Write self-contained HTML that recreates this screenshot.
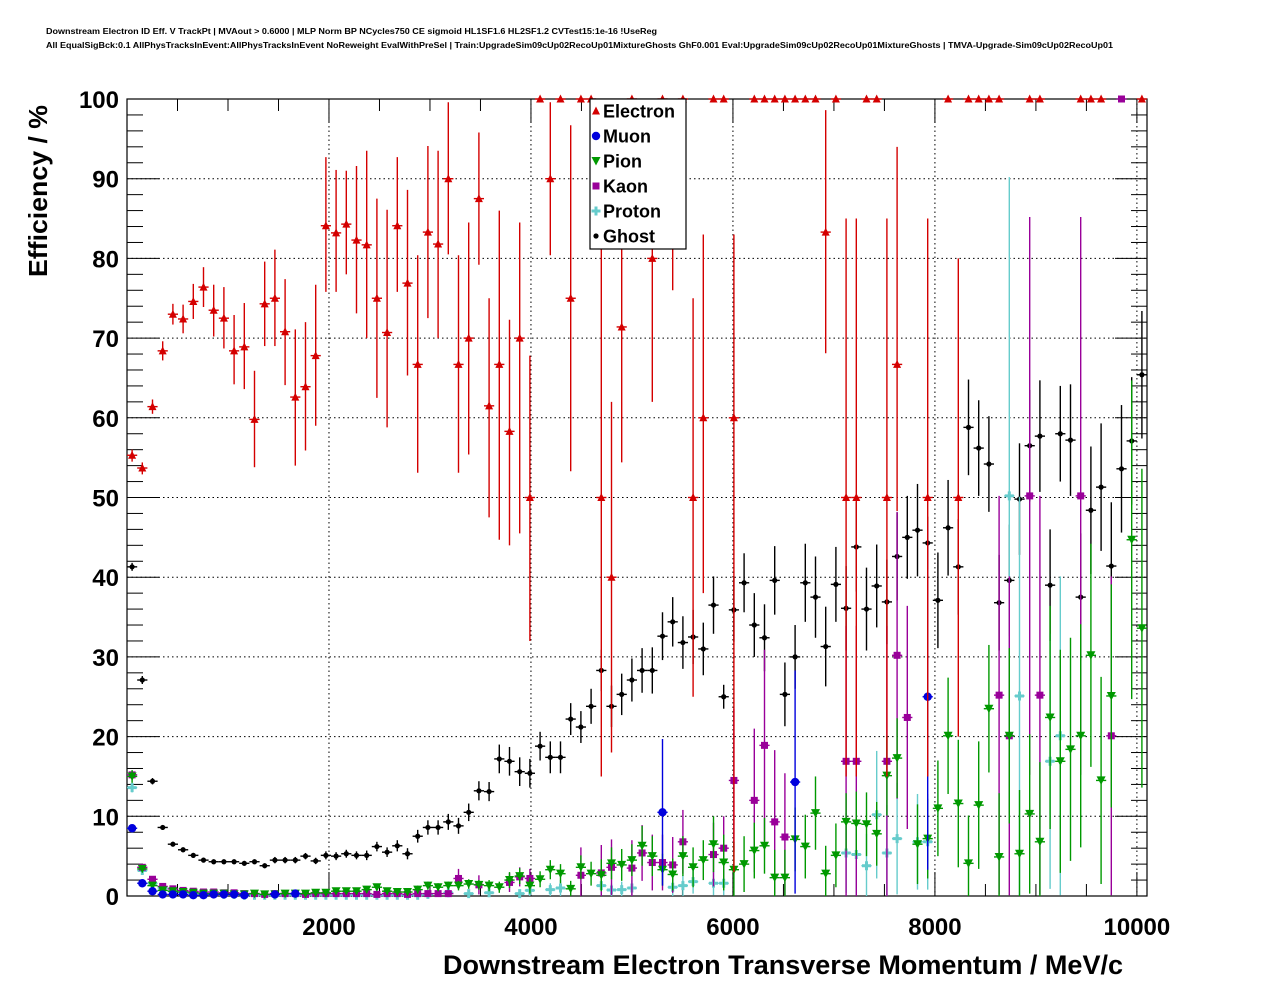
<!DOCTYPE html>
<html><head><meta charset="utf-8"><title>Downstream Electron ID Efficiency</title>
<style>
html,body{margin:0;padding:0;background:#fff;}
svg{display:block;font-family:"Liberation Sans",Arial,sans-serif;}
</style></head>
<body>
<svg id="chart" width="1276" height="996" viewBox="0 0 1276 996" xmlns="http://www.w3.org/2000/svg">
<rect x="0" y="0" width="1276" height="996" fill="#fff"/>
<text x="46" y="34" font-size="8" font-weight="bold" textLength="611" lengthAdjust="spacingAndGlyphs">Downstream Electron ID Eff. V TrackPt | MVAout &gt; 0.6000 | MLP Norm BP NCycles750 CE sigmoid HL1SF1.6 HL2SF1.2 CVTest15:1e-16 !UseReg</text>
<text x="46" y="48" font-size="8" font-weight="bold" textLength="1067" lengthAdjust="spacingAndGlyphs">All EqualSigBck:0.1 AllPhysTracksInEvent:AllPhysTracksInEvent NoReweight EvalWithPreSel | Train:UpgradeSim09cUp02RecoUp01MixtureGhosts GhF0.001 Eval:UpgradeSim09cUp02RecoUp01MixtureGhosts | TMVA-Upgrade-Sim09cUp02RecoUp01</text>
<g id="grid"></g>
<g id="axes"></g>
<g id="series"></g>
<g id="legend"></g>
<text transform="translate(47,191) rotate(-90)" text-anchor="middle" font-size="26" font-weight="bold" textLength="172" lengthAdjust="spacingAndGlyphs">Efficiency / %</text>
<text x="443" y="974" font-size="27" font-weight="bold" textLength="680" lengthAdjust="spacingAndGlyphs">Downstream Electron Transverse Momentum / MeV/c</text>
</svg>
<script>
// ---- data ----
const binWidth = 101;
const xTicks = [2000, 4000, 6000, 8000, 10000];
const xTickLabels = ["2000", "4000", "6000", "8000", "10000"];
const yTicks = [0, 10, 20, 30, 40, 50, 60, 70, 80, 90, 100];
const yTickLabels = ["0", "10", "20", "30", "40", "50", "60", "70", "80", "90", "100"];
const N = null;
const electronVals = [55.3,53.7,61.4,68.4,73.0,72.4,74.6,76.4,73.5,72.5,68.4,68.9,59.8,74.3,75.0,70.8,62.6,63.9,67.8,84.1,
83.2,84.3,82.3,81.7,75.0,70.7,84.1,76.9,66.7,83.3,81.8,90,66.7,70,87.5,61.5,66.7,58.3,70,50,
100,90,100,75,100,100,50,40,71.4,100,N,80,100,90,100,50,60,100,100,60,
N,100,100,100,100,100,100,100,83.3,100,50,50,100,100,50,66.7,N,N,50,N,
100,50,100,100,100,100,N,N,100,100,N,N,N,100,100,100,N,N,N,100];
const electronErrUp = [0.7,0.7,0.9,1.2,1.3,1.8,2.2,2.5,3.2,3.9,4.5,5.5,6.1,5.3,6.1,6.6,8.5,8.1,8.9,8.6,
7.9,6.7,9.3,11.8,12.5,15.4,8.6,11.7,13.7,10.8,11.7,9.6,13.7,14.5,8.3,13.5,19.3,14,14.5,17.8,
0,9.6,0,21.7,0,0,35,22,12.3,0,0,14,0,10,0,25,23,0,0,23,
0,0,0,0,0,0,0,0,15.3,0,35,35,0,0,35,27.3,0,0,35,0,
0,30,0,0,0,0,0,0,0,0,0,0,0,0,0,0,0,0,0,0];
const electronErrDn = [0.8,0.8,0.9,1.2,1.3,1.8,2.2,2.5,3.3,3.8,4.2,5.3,6,5.3,6,6.7,8.6,8,8.8,8.3,
7.4,6.3,9.2,11.7,12.5,11.9,8.3,11.6,13.6,10.8,11.8,9.5,13.6,14.6,8.3,14,22,14.3,24.5,18,
0,9.6,0,21.7,0,0,35,22,17,0,0,18,0,14,0,25,22,0,0,57,
0,0,0,0,0,0,0,0,15.2,0,35,35,0,0,35,18.4,0,0,35,0,
0,30,0,0,0,0,0,0,0,0,0,0,0,0,0,0,0,0,0,0];
const muonVals = [8.5,1.6,0.6,0.2,0.2,0.2,0.1,0.1,0.2,0.2,0.2,0.1,N,N,0.2,N,0.3,N,N,N,
N,N,N,N,N,N,N,N,N,N,N,N,N,N,N,N,N,N,N,N,
N,N,N,N,N,N,N,N,N,N,N,N,10.5,N,N,N,N,N,N,N,
N,N,N,N,N,14.3,N,N,N,N,N,N,N,N,N,N,N,N,25,N,
N,N,N,N,N,N,N,N,N,N,N,N,N,N,N,N,N,N,N,N];
const muonErr = [0.4,0.2,0.1,0.1,0.1,0.1,0.1,0.1,0.1,0.1,0.1,0.1,0,0,0.1,0,0.2,0,0,0,
0,0,0,0,0,0,0,0,0,0,0,0,0,0,0,0,0,0,0,0,
0,0,0,0,0,0,0,0,0,0,0,0,9.2,0,0,0,0,0,0,0,
0,0,0,0,0,14,0,0,0,0,0,0,0,0,0,0,0,0,21.7,0,
0,0,0,0,0,0,0,0,0,0,0,0,0,0,0,0,0,0,0,0];
const pionVals = [15.0,3.4,1.3,0.7,0.6,0.5,0.4,0.3,0.3,0.3,0.2,0.2,0.3,0.2,0.2,0.3,0.3,0.3,0.4,0.4,
0.6,0.6,0.6,0.8,1.1,0.6,0.5,0.5,0.8,1.3,1.1,1.3,1.3,1.5,1.4,1.3,1.1,2.0,2.5,1.3,
2.1,3.3,2.8,0.9,3.6,2.8,2.6,4.1,3.9,4.5,6.3,5.0,3.3,2.7,5.0,3.6,4.5,6.5,4.2,3.3,
4.0,5.7,6.3,2.3,2.3,7.1,6.2,10.4,2.8,5.1,9.3,9.1,9.0,7.8,15.1,17.3,N,6.5,7.2,11.0,
20.1,11.6,4.1,11.4,23.5,4.9,20.1,5.3,10.3,6.8,22.4,16.9,18.4,20.1,30.2,14.5,25.1,N,44.7,33.6];
const pionErr = [0.8,0.4,0.3,0.2,0.2,0.2,0.2,0.2,0.2,0.2,0.2,0.2,0.2,0.2,0.2,0.2,0.2,0.2,0.2,0.2,
0.3,0.4,0.4,0.4,0.4,0.4,0.4,0.4,0.5,0.5,0.5,0.5,0.6,0.6,0.6,0.7,0.7,1.0,1.0,1.0,
1.0,1.2,1.2,1.0,1.5,1.5,2,2,2,2,2.5,2.5,2,2,2.5,2.5,2.5,3.5,3.5,3.5,
3.5,3.5,3.5,3.5,3.5,4,4,4.6,3.5,4,3.6,4,4,4,5,5,0,5,5,6,
7.3,8,6,8,8,8,11,8,10,10,14,14,14,14,14,13,14,0,20,20];
const kaonVals = [15.2,3.6,2.1,1.2,0.9,0.7,0.6,0.5,0.5,0.4,0.4,0.3,0.3,0.2,0.3,0.3,0.3,0.2,0.3,0.3,
0.3,0.3,0.3,0.3,0.2,0.3,0.3,0.2,0.3,0.3,0.3,0.3,2.2,N,1.4,N,N,1.7,2.4,2.2,
N,N,N,N,2.6,N,2.9,3.6,N,3.5,5.4,4.2,4.2,3.9,6.8,N,N,5.2,6.0,14.5,
N,12.0,18.9,9.3,7.4,N,N,N,N,N,16.9,16.9,N,N,16.9,30.2,22.4,N,N,N,
N,N,N,N,N,25.2,20.1,N,50.2,25.2,N,N,N,50.2,N,N,20.1,100,N,N];
const kaonErr = [0.5,0.3,0.3,0.2,0.2,0.2,0.2,0.2,0.2,0.2,0.2,0.2,0.2,0.2,0.2,0.2,0.2,0.2,0.2,0.2,
0.2,0.2,0.2,0.2,0.2,0.2,0.2,0.2,0.2,0.2,0.2,0.2,1.2,0,1.2,0,0,1.2,1.2,1.2,
0,0,0,0,3.5,0,3.5,3.5,0,3.5,3.5,3.5,3.5,3.5,4,0,0,4,4,9,
0,9,12,9,8,0,0,0,0,0,17,17,0,0,17,18,14,0,0,0,
0,0,0,0,0,25,20,0,35,25,0,0,0,35,0,0,20,0,0,0];
const protonVals = [13.6,3.2,1.6,1.0,0.6,0.5,0.4,0.3,0.3,0.2,0.2,0.1,0.1,0.1,0.1,0.1,0.1,0.1,0.1,0.1,
0.1,0.1,0.1,0.1,0.1,0.1,0.1,0.1,0.1,0.2,N,0.4,N,0.3,N,0.4,N,N,0.3,0.7,
N,0.8,1.0,N,N,N,1.3,0.75,0.8,1.0,N,N,N,1.1,1.3,1.8,N,1.6,1.6,N,
N,N,N,N,N,N,N,N,N,N,5.4,5.2,3.8,10.2,5.4,7.2,N,6.8,6.8,N,
N,N,N,N,N,N,50.2,25.1,N,N,16.9,20.1,N,N,N,N,N,N,N,N];
const protonErr = [0.6,0.3,0.2,0.2,0.2,0.2,0.2,0.1,0.1,0.1,0.1,0.1,0.1,0.1,0.1,0.1,0.1,0.1,0.1,0.1,
0.1,0.1,0.1,0.1,0.1,0.1,0.1,0.1,0.1,0.2,0,0.4,0,0.3,0,0.4,0,0,0.5,0.7,
0,0.8,1.0,0,0,0,1.3,0.8,1.0,1.0,0,0,0,1.2,1.3,1.5,0,1.5,1.5,0,
0,0,0,0,0,0,0,0,0,0,5,5,4,8,6,7,0,6,6,0,
0,0,0,0,0,0,40,25,0,0,16,20,0,0,0,0,0,0,0,0];
const ghostVals = [41.3,27.1,14.4,8.6,6.5,5.8,5.1,4.5,4.3,4.3,4.3,4.1,4.3,3.8,4.5,4.5,4.5,5.0,4.4,5.1,
5.0,5.3,5.1,5.1,6.2,5.5,6.3,5.3,7.5,8.6,8.6,9.3,8.8,10.5,13.2,13.1,17.2,16.9,15.6,15.4,
18.8,17.4,17.4,22.2,21.2,23.8,28.3,23.8,25.3,27.1,28.3,28.3,32.6,34.4,31.8,32.5,31.0,36.5,25.0,35.9,
39.3,34.0,32.4,39.6,25.3,30.0,39.3,37.5,31.3,39.1,36.1,43.8,36.0,38.9,36.9,42.6,45.0,45.9,44.3,37.1,
46.2,41.3,58.8,56.2,54.2,36.8,39.6,49.8,56.5,57.7,39.0,58.0,57.2,37.5,48.4,51.3,41.4,53.6,57.1,65.4];
const ghostErr = [0.5,0.5,0.4,0.3,0.3,0.3,0.3,0.3,0.3,0.3,0.3,0.3,0.3,0.3,0.4,0.4,0.4,0.4,0.4,0.5,
0.5,0.5,0.5,0.6,0.6,0.6,0.7,0.7,0.8,0.9,0.9,1.0,1.0,1.1,1.2,1.2,1.8,1.8,1.8,1.8,
1.8,2,2,2,2,2.2,2.6,2.6,2.6,2.7,2.8,2.9,3,3.1,3.3,3.4,3.3,3.6,1.5,4,
3.7,4,4.2,4.3,4,4,4.9,5.1,5,4.7,5.3,5.6,5.2,5.2,5.3,5.5,5.2,5.8,3.3,6,
6,6,6,6,6,6,7,7,7,7,7,6,7,8,8,8,8,8,8,8];

// ---- axes ----
const X0 = 127, X1 = 1147, Y0 = 896, Y1 = 99;
const XMAX = 10100;
function xs(v){ return X0 + v * (X1 - X0) / XMAX; }
function ys(v){ return Y0 - v * (Y0 - Y1) / 100; }
function binCenter(i){ return binWidth * (i + 0.5); }

const NS = "http://www.w3.org/2000/svg";
function mk(tag, attrs, parent){
  const e = document.createElementNS(NS, tag);
  for (const k in attrs) e.setAttribute(k, attrs[k]);
  parent.appendChild(e);
  return e;
}
const grid = document.getElementById('grid');
const axes = document.getElementById('axes');
const series = document.getElementById('series');
const legend = document.getElementById('legend');

xTicks.forEach(function(t){
  const l = mk('line', {x1: xs(t), x2: xs(t), y1: Y1, y2: Y0, stroke: '#000', 'stroke-width': 1, 'stroke-dasharray': '1.5,3'}, grid);
  
  
});
yTicks.forEach(function(t){
  if (t === 0 || t === 100) return;
  const l = mk('line', {x1: X0, x2: X1, y1: ys(t), y2: ys(t), stroke: '#000', 'stroke-width': 1, 'stroke-dasharray': '1.5,3'}, grid);
  
  
});

const frame = mk('rect', {x: X0, y: Y1, width: X1 - X0, height: Y0 - Y1, fill: 'none', stroke: '#000', 'stroke-width': 1.2}, axes);



for (let v = 0; v <= XMAX; v += 500) {
  const major = (v % 2000 === 0);
  const len = major ? 24 : 12;
  const b = mk('line', {x1: xs(v), x2: xs(v), y1: Y0, y2: Y0 - len, stroke: '#000', 'stroke-width': 1}, axes);
  
  
  const t = mk('line', {x1: xs(v), x2: xs(v), y1: Y1, y2: Y1 + len, stroke: '#000', 'stroke-width': 1}, axes);
  
  
}
for (let v = 0; v <= 100; v += 2) {
  const major = (v % 10 === 0);
  const len = major ? 32 : 16;
  const l = mk('line', {x1: X0, x2: X0 + len, y1: ys(v), y2: ys(v), stroke: '#000', 'stroke-width': 1}, axes);
  
  
  const r = mk('line', {x1: X1, x2: X1 - len, y1: ys(v), y2: ys(v), stroke: '#000', 'stroke-width': 1}, axes);
  
  
}
xTicks.forEach(function(t, i){
  const tx = mk('text', {x: xs(t), y: 935, 'text-anchor': 'middle', 'font-size': 24, 'font-weight': 'bold'}, axes);
  tx.textContent = xTickLabels[i];
  
  
});
yTicks.forEach(function(t, i){
  const tx = mk('text', {x: 119, y: ys(t) + 9, 'text-anchor': 'end', 'font-size': 24, 'font-weight': 'bold'}, axes);
  tx.textContent = yTickLabels[i];
  
  
});

function marker(kind, cx, cy, color, parent){
  let m;
  if (kind === 'tri-up') {
    m = mk('polygon', {points: (cx-4)+','+(cy+3.5)+' '+(cx+4)+','+(cy+3.5)+' '+cx+','+(cy-4.5), fill: color}, parent);
  } else if (kind === 'tri-down') {
    m = mk('polygon', {points: (cx-4.5)+','+(cy-4)+' '+(cx+4.5)+','+(cy-4)+' '+cx+','+(cy+4.5), fill: color}, parent);
  } else if (kind === 'circle') {
    m = mk('circle', {cx: cx, cy: cy, r: 4.2, fill: color}, parent);
  } else if (kind === 'square') {
    m = mk('rect', {x: cx-3.5, y: cy-3.5, width: 7, height: 7, fill: color}, parent);
  } else if (kind === 'cross') {
    m = mk('path', {d: 'M'+(cx-4.5)+','+cy+'H'+(cx+4.5)+'M'+cx+','+(cy-4.5)+'V'+(cy+4.5), stroke: color, 'stroke-width': 3, fill: 'none'}, parent);
  } else {
    m = mk('circle', {cx: cx, cy: cy, r: 2.6, fill: color}, parent);
  }
  return m;
}

function drawSeries(name, vals, up, dn, color, kind){
  const g = mk('g', {}, series);
  
  
  vals.forEach(function(v, i){
    if (v === null) return;
    const c = binCenter(i);
    const cx = xs(c), cy = ys(v);
    const hi = Math.min(100, v + up[i]), lo = Math.max(0, v - dn[i]);
    const eb = mk('line', {x1: cx, x2: cx, y1: ys(hi), y2: ys(lo), stroke: color, 'stroke-width': 1.4}, g);
    
    
    const hb = mk('line', {x1: xs(c - binWidth/2), x2: xs(c + binWidth/2), y1: cy, y2: cy, stroke: color, 'stroke-width': 1.4}, g);
    
    
    const m = marker(kind, cx, cy, color, g);
    
    
  });
}
drawSeries('ghost', ghostVals, ghostErr, ghostErr, '#000000', 'dot');
drawSeries('proton', protonVals, protonErr, protonErr, '#66cccc', 'cross');
drawSeries('kaon', kaonVals, kaonErr, kaonErr, '#990099', 'square');
drawSeries('pion', pionVals, pionErr, pionErr, '#009900', 'tri-down');
drawSeries('muon', muonVals, muonErr, muonErr, '#0000dd', 'circle');
drawSeries('electron', electronVals, electronErrUp, electronErrDn, '#d40000', 'tri-up');

const lbox = mk('rect', {x: 590, y: 99, width: 96, height: 150, fill: '#fff', stroke: '#000', 'stroke-width': 1.2}, legend);


const legNames = ['Electron', 'Muon', 'Pion', 'Kaon', 'Proton', 'Ghost'];
const legColors = ['#d40000', '#0000dd', '#009900', '#990099', '#66cccc', '#000000'];
const legKinds = ['tri-up', 'circle', 'tri-down', 'square', 'cross', 'dot'];
legNames.forEach(function(n, i){
  const y = 111 + i * 25;
  const m = marker(legKinds[i], 596, y, legColors[i], legend);
  
  
  const t = mk('text', {x: 603, y: y + 6.5, 'font-size': 18, 'font-weight': 'bold'}, legend);
  t.textContent = n;
  
  
});
</script>
</body></html>
